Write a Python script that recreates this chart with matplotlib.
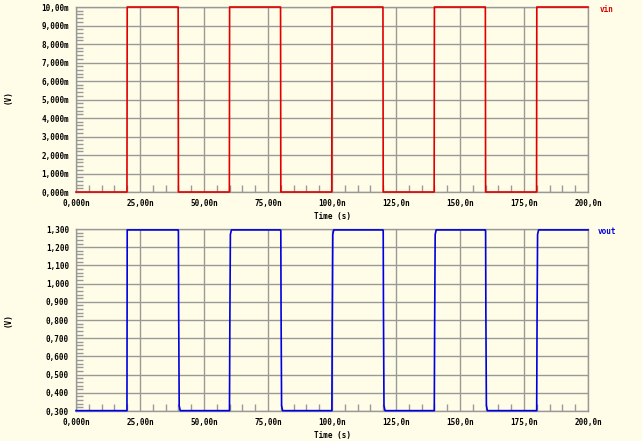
import matplotlib
matplotlib.use("Agg")
import matplotlib.pyplot as plt
from matplotlib.ticker import MultipleLocator, FuncFormatter

# vin: ideal pulse, time in ns, value in mV
vin_t = [0, 19.9, 20.0, 39.9, 40.0, 59.9, 60.0, 79.9, 80.0, 99.9, 100.0,
         119.9, 120.0, 139.9, 140.0, 159.9, 160.0, 179.9, 180.0, 200]
vin_v = [0, 0, 10, 10, 0, 0, 10, 10, 0, 0, 10,
         10, 0, 0, 10, 10, 0, 0, 10, 10]

# vout: time in ns, value in V
vout_t = [0, 19.9, 20.0, 39.9, 40.0, 40.1, 40.3, 40.7, 59.95, 60.1, 60.3, 60.7,
          79.9, 80.0, 80.1, 80.3, 80.7, 99.95, 100.1, 100.3, 100.7,
          119.9, 120.0, 120.1, 120.3, 120.7, 139.95, 140.1, 140.3, 140.7,
          159.9, 160.0, 160.1, 160.3, 160.7, 179.95, 180.1, 180.3, 180.7, 200]
vout_v = [0.302, 0.302, 1.295, 1.295, 1.29, 0.85, 0.33, 0.302, 0.302, 0.80, 1.27, 1.295,
          1.295, 1.29, 0.85, 0.33, 0.302, 0.302, 0.80, 1.27, 1.295,
          1.295, 1.29, 0.85, 0.33, 0.302, 0.302, 0.80, 1.27, 1.295,
          1.295, 1.29, 0.85, 0.33, 0.302, 0.302, 0.80, 1.27, 1.295, 1.295]

x_ticks = [0, 25, 50, 75, 100, 125, 150, 175, 200]
x_labels = ["0,000n", "25,00n", "50,00n", "75,00n", "100,0n",
            "125,0n", "150,0n", "175,0n", "200,0n"]

bg = "#fffde8"
grid = "#999999"
font = dict(family="DejaVu Sans Mono", weight="bold", size=5.5)

fig = plt.figure(figsize=(6.42, 4.41), dpi=100, facecolor=bg)
ax1 = fig.add_axes([0.1184, 0.5646, 0.7975, 0.4195])
ax2 = fig.add_axes([0.1184, 0.0680, 0.7975, 0.4127])


def style(ax):
    ax.set_facecolor(bg)
    ax.set_xlim(0, 200)
    ax.set_xticks(x_ticks)
    ax.set_xticklabels(x_labels, **font)
    ax.xaxis.set_minor_locator(MultipleLocator(5))
    ax.set_axisbelow(True)
    ax.grid(True, which="major", color=grid, lw=1)
    ax.tick_params(which="major", length=0, pad=5)
    ax.tick_params(which="minor", direction="in", length=5, color=grid, width=1)
    for s in ax.spines.values():
        s.set_color(grid)
        s.set_linewidth(1)
    ax.set_xlabel("Time (s)", labelpad=3, **font)


ax1.plot(vin_t, vin_v, color="#e00000", lw=1.2, zorder=5, clip_on=False)
style(ax1)
ax1.set_ylim(0, 10)
ax1.yaxis.set_major_locator(MultipleLocator(1))
ax1.yaxis.set_minor_locator(MultipleLocator(0.2))
ax1.yaxis.set_major_formatter(FuncFormatter(
    lambda v, p: "10,00m" if v >= 10 else f"{v:.3f}m".replace(".", ",")))
for lb in ax1.get_yticklabels():
    lb.set(**font)
ax1.text(1.022, 0.985, "vin", transform=ax1.transAxes, color="#e00000",
         ha="left", va="center", **font)

ax2.plot(vout_t, vout_v, color="#0000e0", lw=1.2, zorder=5, clip_on=False)
style(ax2)
ax2.set_ylim(0.3, 1.3)
ax2.yaxis.set_major_locator(MultipleLocator(0.1))
ax2.yaxis.set_minor_locator(MultipleLocator(0.02))
ax2.yaxis.set_major_formatter(FuncFormatter(
    lambda v, p: f"{v:.3f}".replace(".", ",")))
for lb in ax2.get_yticklabels():
    lb.set(**font)
ax2.text(1.018, 0.985, "vout", transform=ax2.transAxes, color="#0000e0",
         ha="left", va="center", **font)

fig.text(8 / 642, 1 - 97 / 441, "(V)", rotation=90, ha="center", va="center", **font)
fig.text(8 / 642, 1 - 320 / 441, "(V)", rotation=90, ha="center", va="center", **font)

fig.savefig("out.png", dpi=100, facecolor=bg)
